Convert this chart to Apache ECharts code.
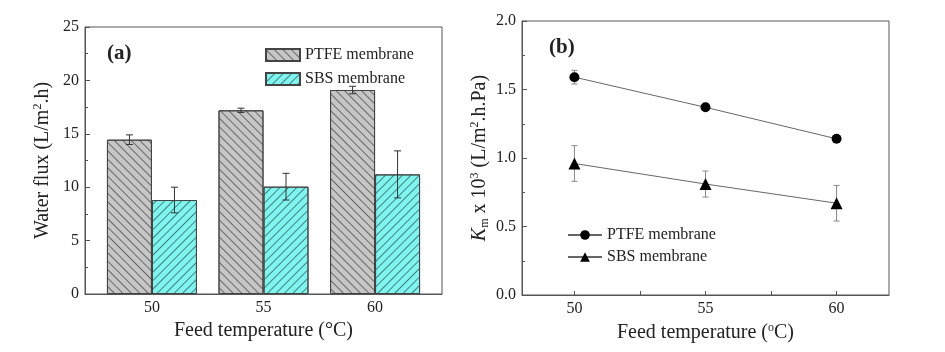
<!DOCTYPE html>
<html>
<head>
<meta charset="utf-8">
<script src="https://cdn.jsdelivr.net/npm/echarts@6/dist/echarts.min.js"></script>
<style>
  html, body { margin: 0; padding: 0; background: #fff; }
  #chart { width: 945px; height: 352px; }
</style>
</head>
<body>
<div id="chart"></div>
<script>
// feed temperatures (°C)
const temps = [50, 55, 60];

// (a) water flux, L/m2.h
const ptfeFlux = [14.45, 17.2, 19.1];
const ptfeFluxErr = [0.45, 0.2, 0.35];
const sbsFlux = [8.8, 10.05, 11.2];
const sbsFluxErr = [1.2, 1.25, 2.2];

// (b) Km x 10^3
const ptfeKm = [1.59, 1.37, 1.14];
const ptfeKmErr = [0.05, 0, 0];
const sbsKm = [0.96, 0.81, 0.67];
const sbsKmErr = [0.13, 0.095, 0.13];

const fluxTicks = [0, 5, 10, 15, 20, 25];
const kmTicks = [0, 0.5, 1.0, 1.5, 2.0];

const FONT = "'Liberation Serif', 'Times New Roman', serif";
const INK = '#222';
const FRAME = '#555';

const pairs = (xs, ys) => xs.map((x, i) => [x, ys[i]]);
const errPairs = (xs, ys, es) => xs.map((x, i) => [x, ys[i] - es[i], ys[i] + es[i]]);

// draws a vertical error bar with caps, shifted by dx pixels
const errorBar = (dx, half, color) => (params, api) => {
  const lo = api.coord([api.value(0), api.value(1)]);
  const hi = api.coord([api.value(0), api.value(2)]);
  const x = lo[0] + dx;
  const style = { stroke: color, lineWidth: 1 };
  if (Math.abs(lo[1] - hi[1]) < 0.5) return { type: 'group', children: [] };
  return {
    type: 'group',
    children: [
      { type: 'line', shape: { x1: x, y1: lo[1], x2: x, y2: hi[1] }, style },
      { type: 'line', shape: { x1: x - half, y1: lo[1], x2: x + half, y2: lo[1] }, style },
      { type: 'line', shape: { x1: x - half, y1: hi[1], x2: x + half, y2: hi[1] }, style },
    ],
  };
};

const hatch = (rot, color) => ({
  symbol: 'rect',
  symbolSize: 1,
  dashArrayX: [1, 0],
  dashArrayY: [1, 5],
  rotation: rot,
  color,
});

const axisLabelStyle = { color: INK, fontSize: 16, fontFamily: FONT };

const chart = echarts.init(document.getElementById('chart'));

chart.setOption({
  animation: false,
  textStyle: { fontFamily: FONT },
  grid: [
    { left: 85, top: 27, width: 357, height: 267, show: true, borderColor: FRAME, borderWidth: 1 },
    { left: 522, top: 21, width: 367, height: 274, show: true, borderColor: FRAME, borderWidth: 1 },
  ],
  xAxis: [
    {
      gridIndex: 0, type: 'value', min: 47, max: 63,
      axisLine: { show: true, lineStyle: { color: FRAME } },
      axisTick: { show: false },
      splitLine: { show: false },
      axisLabel: { ...axisLabelStyle, margin: 6, customValues: temps },
      name: 'Feed temperature (°C)', nameLocation: 'middle', nameGap: 21,
      nameTextStyle: { color: INK, fontSize: 20, fontFamily: FONT },
    },
    {
      gridIndex: 1, type: 'value', min: 48, max: 62,
      axisLine: { show: true, lineStyle: { color: FRAME } },
      axisTick: { show: true, inside: true, length: 4, lineStyle: { color: FRAME }, customValues: [50, 52.5, 55, 57.5, 60] },
      splitLine: { show: false },
      axisLabel: { ...axisLabelStyle, margin: 6, customValues: temps },
      name: 'Feed temperature ({sup|o}C)', nameLocation: 'middle', nameGap: 20,
      nameTextStyle: {
        color: INK, fontSize: 20, fontFamily: FONT,
        rich: { sup: { fontSize: 12, verticalAlign: 'top', color: INK, fontFamily: FONT, padding: [0, 0, 10, 0] } },
      },
    },
  ],
  yAxis: [
    {
      gridIndex: 0, type: 'value', min: 0, max: 25, interval: 5,
      axisLine: { show: true, lineStyle: { color: FRAME } },
      axisTick: { show: true, inside: true, length: 5, lineStyle: { color: FRAME } },
      minorTick: { show: true, splitNumber: 2, length: 3, lineStyle: { color: FRAME } },
      splitLine: { show: false },
      axisLabel: { ...axisLabelStyle, margin: 6, customValues: fluxTicks },
      name: 'Water flux (L/m{sup|2}.h)', nameLocation: 'middle', nameGap: 31, nameRotate: 90,
      nameTextStyle: {
        color: INK, fontSize: 20, fontFamily: FONT,
        rich: { sup: { fontSize: 12, color: INK, fontFamily: FONT, padding: [0, 0, 10, 0] } },
      },
    },
    {
      gridIndex: 1, type: 'value', min: 0, max: 2, interval: 0.5,
      axisLine: { show: true, lineStyle: { color: FRAME } },
      axisTick: { show: true, inside: true, length: 5, lineStyle: { color: FRAME } },
      minorTick: { show: true, splitNumber: 2, length: 3, lineStyle: { color: FRAME } },
      splitLine: { show: false },
      axisLabel: { ...axisLabelStyle, margin: 6, formatter: (v) => v.toFixed(1), customValues: kmTicks },
      name: '{i|K}{sub|m} x 10{sup|3} (L/m{sup|2}.h.Pa)', nameLocation: 'middle', nameGap: 31, nameRotate: 90,
      nameTextStyle: {
        color: INK, fontSize: 20, fontFamily: FONT,
        rich: {
          i: { fontSize: 20, fontStyle: 'italic', color: INK, fontFamily: FONT },
          sub: { fontSize: 12, color: INK, fontFamily: FONT, padding: [10, 0, 0, 0] },
          sup: { fontSize: 12, color: INK, fontFamily: FONT, padding: [0, 0, 10, 0] },
        },
      },
    },
  ],
  legend: [
    {
      left: 260, top: 42, orient: 'vertical', itemGap: 8,
      itemWidth: 34, itemHeight: 12, icon: 'rect', selectedMode: false,
      data: ['PTFE membrane', 'SBS membrane'],
      textStyle: { color: INK, fontSize: 16, fontFamily: FONT },
    },
    {
      left: 562, top: 222, orient: 'vertical', itemGap: 6,
      itemWidth: 34, itemHeight: 12, selectedMode: false,
      data: ['PTFE membrane (b)', 'SBS membrane (b)'],
      formatter: (name) => name.replace(' (b)', ''),
      textStyle: { color: INK, fontSize: 16, fontFamily: FONT },
    },
  ],
  graphic: [
    { type: 'text', left: 107, top: 43, style: { text: '(a)', fontSize: 21, fontWeight: 'bold', fontFamily: FONT, fill: INK } },
    { type: 'text', left: 549, top: 37, style: { text: '(b)', fontSize: 21, fontWeight: 'bold', fontFamily: FONT, fill: INK } },
  ],
  series: [
    {
      name: 'PTFE membrane', type: 'bar', xAxisIndex: 0, yAxisIndex: 0,
      barWidth: 45, barGap: '0%',
      data: pairs(temps, ptfeFlux),
      itemStyle: { color: '#c6c6c6', borderColor: '#444', borderWidth: 1, decal: hatch(Math.PI / 4, 'rgba(80,80,80,0.8)') },
    },
    {
      name: 'SBS membrane', type: 'bar', xAxisIndex: 0, yAxisIndex: 0,
      barWidth: 45, barGap: '0%',
      data: pairs(temps, sbsFlux),
      itemStyle: { color: '#80f5f0', borderColor: '#444', borderWidth: 1, decal: hatch(-Math.PI / 4, 'rgba(50,100,100,0.8)') },
    },
    {
      type: 'custom', xAxisIndex: 0, yAxisIndex: 0, z: 5,
      renderItem: errorBar(-22.5, 3.5, '#333'),
      encode: { x: 0, y: [1, 2] },
      data: errPairs(temps, ptfeFlux, ptfeFluxErr),
    },
    {
      type: 'custom', xAxisIndex: 0, yAxisIndex: 0, z: 5,
      renderItem: errorBar(22.5, 3.5, '#333'),
      encode: { x: 0, y: [1, 2] },
      data: errPairs(temps, sbsFlux, sbsFluxErr),
    },
    {
      name: 'PTFE membrane (b)', type: 'line', xAxisIndex: 1, yAxisIndex: 1,
      symbol: 'circle', symbolSize: 10,
      data: pairs(temps, ptfeKm),
      lineStyle: { color: '#666', width: 1 },
      itemStyle: { color: '#000' },
    },
    {
      name: 'SBS membrane (b)', type: 'line', xAxisIndex: 1, yAxisIndex: 1,
      symbol: 'triangle', symbolSize: 12,
      data: pairs(temps, sbsKm),
      lineStyle: { color: '#666', width: 1 },
      itemStyle: { color: '#000' },
    },
    {
      type: 'custom', xAxisIndex: 1, yAxisIndex: 1, z: 1,
      renderItem: errorBar(0, 3, '#888'),
      encode: { x: 0, y: [1, 2] },
      data: errPairs(temps, ptfeKm, ptfeKmErr),
    },
    {
      type: 'custom', xAxisIndex: 1, yAxisIndex: 1, z: 1,
      renderItem: errorBar(0, 3, '#888'),
      encode: { x: 0, y: [1, 2] },
      data: errPairs(temps, sbsKm, sbsKmErr),
    },
  ],
});
</script>
</body>
</html>
